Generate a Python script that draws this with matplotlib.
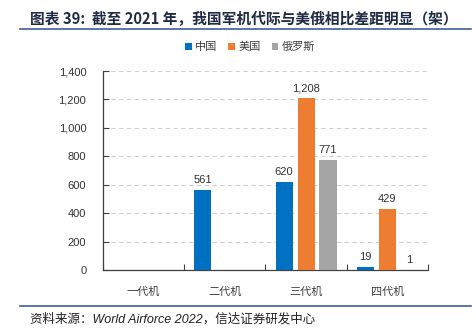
import numpy as np
import matplotlib.pyplot as plt
from matplotlib.lines import Line2D

plt.rcParams['font.family'] = ['Liberation Sans', 'Noto Sans CJK SC', 'DejaVu Sans']

categories = ['一代机', '二代机', '三代机', '四代机']
series = ['中国', '美国', '俄罗斯']
china = [0, 561, 620, 19]
usa = [0, 0, 1208, 429]
russia = [0, 0, 771, 1]
colors = ['#0070C0', '#ED7D31', '#A5A5A5']

fig = plt.figure(figsize=(4.76, 3.34), dpi=100)
ax = fig.add_axes([0.2164, 0.1916, 0.6826, 0.5958])

x = np.arange(len(categories))
w = 0.21
off = 0.27
for i, (vals, c, name) in enumerate(zip([china, usa, russia], colors, series)):
    pos = x + (i - 1) * off
    shown = [v if v > 0 else np.nan for v in vals]
    ax.bar(pos, shown, width=w, color=c, label=name, zorder=3)
    for p, v in zip(pos, vals):
        if v > 0:
            ax.text(p, v + 35, f'{v:,}', ha='center', va='bottom', fontsize=8, color='#333333')

ax.set_xlim(-0.5, len(categories) - 0.5)
ax.set_ylim(0, 1400)
ax.set_yticks(range(0, 1401, 200))
ax.set_yticklabels([f'{v:,}' for v in range(0, 1401, 200)], fontsize=8, color='#333333')
ax.set_xticks(np.arange(-0.5, len(categories)), minor=False)
ax.set_xticklabels([])
ax.set_xticks(x, minor=True)
ax.set_xticklabels(categories, minor=True, fontsize=8, color='#404040')
ax.tick_params(axis='x', which='minor', length=0, pad=12)
ax.tick_params(axis='x', which='major', direction='in', length=4, color='#404040')
ax.tick_params(axis='y', direction='in', length=4, color='#404040', pad=12)
ax.yaxis.grid(True, linestyle=(0, (4, 3)), color='#D0D0D0', linewidth=0.8, zorder=0)
for s in ['top', 'right']:
    ax.spines[s].set_visible(False)
for s in ['left', 'bottom']:
    ax.spines[s].set_color('#404040')
    ax.spines[s].set_linewidth(0.9)

leg = fig.legend(loc='center', bbox_to_anchor=(0.525, 0.859), ncol=3, frameon=False,
                 fontsize=8, handlelength=0.6, handleheight=0.6, handletextpad=0.3,
                 columnspacing=1.0)
for t in leg.get_texts():
    t.set_color('#404040')

fig.text(0.063, 0.942, '图表 39:  截至 2021 年，我国军机代际与美俄相比差距明显（架）',
         fontsize=10.6, fontweight='bold', color='#1F2A44', va='center', ha='left',
         family=['Noto Sans CJK SC', 'DejaVu Sans'])
fig.add_artist(Line2D([0.042, 0.99], [0.913, 0.913], color='#3F5F9A', linewidth=1.2))
fig.add_artist(Line2D([0.042, 0.99], [0.084, 0.084], color='#3F5F9A', linewidth=1.2))
fig.text(0.063, 0.045, '资料来源：World Airforce 2022，信达证券研发中心',
         fontsize=9, style='italic', color='#222222', va='center', ha='left')

fig.savefig('out.png', dpi=100)
